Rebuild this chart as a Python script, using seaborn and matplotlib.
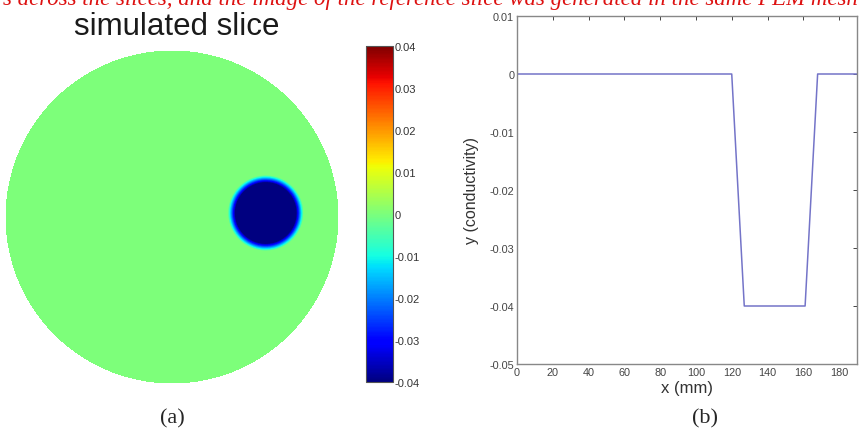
import numpy as np
import pandas as pd
import matplotlib
matplotlib.use("Agg")
import matplotlib.pyplot as plt
import seaborn as sns

# (a) simulated slice: disc with one low-conductivity inclusion
grid_n = 334
inclusion_x = 0.563      # in slice radii, right of centre
inclusion_y = 0.024      # in slice radii, above centre
inclusion_radius = 0.205
inclusion_value = -0.04
background_value = 0.0
edge_width = 0.045

cbar_ticks = [-0.04, -0.03, -0.02, -0.01, 0, 0.01, 0.02, 0.03, 0.04]
cbar_labels = ["-0.04", "-0.03", "-0.02", "-0.01", "0", "0.01", "0.02", "0.03", "0.04"]

# (b) conductivity profile through the inclusion
profile_x = [0, 120, 127, 161, 168, 190]
profile_y = [0, 0, -0.04, -0.04, 0, 0]

x_ticks = [0, 20, 40, 60, 80, 100, 120, 140, 160, 180]
y_ticks = [-0.05, -0.04, -0.03, -0.02, -0.01, 0, 0.01]
y_labels = ["-0.05", "-0.04", "-0.03", "-0.02", "-0.01", "0", "0.01"]

caption_text = ("s across the slices, and the image of the reference slice "
                "was generated in the same FEM mesh")

sns.set_style("white")
plt.rcParams["font.family"] = ["Liberation Sans", "DejaVu Sans"]

# build slice image
coords = np.linspace(-1, 1, grid_n)
X, Y = np.meshgrid(coords, -coords)
dist = np.sqrt((X - inclusion_x) ** 2 + (Y - inclusion_y) ** 2)
weight = np.clip((inclusion_radius - dist) / edge_width + 0.5, 0, 1)
values = background_value + (inclusion_value - background_value) * weight
outside = X ** 2 + Y ** 2 > 1.0
slice_df = pd.DataFrame(values)

fig = plt.figure(figsize=(8.6, 4.35), dpi=100)

ax_img = fig.add_axes([5 / 860, (435 - 385) / 435, 334 / 860, 334 / 435])
cax = fig.add_axes([366 / 860, (435 - 383) / 435, 27 / 860, 336 / 435])
sns.heatmap(slice_df, mask=outside, cmap="jet", vmin=-0.04, vmax=0.04,
            ax=ax_img, cbar_ax=cax, xticklabels=False, yticklabels=False)
ax_img.set_xlabel("")
ax_img.set_ylabel("")

cbar = ax_img.collections[0].colorbar
cbar.set_ticks(cbar_ticks)
cbar.set_ticklabels(cbar_labels)
cbar.outline.set_linewidth(0.8)
cbar.outline.set_edgecolor("#555555")
cax.tick_params(labelsize=8, labelcolor="#333333", length=2, width=0.6,
                direction="in", left=True, right=True, pad=1)

fig.text(0.206, 0.938, "simulated slice", fontsize=22.5, ha="center", va="center",
         color="#1a1a1a")

# profile
ax = fig.add_axes([517 / 860, (435 - 365) / 435, 340 / 860, 348 / 435])
sns.lineplot(x=profile_x, y=profile_y, ax=ax, color="#7474c8", linewidth=1.1)
ax.set_xlim(0, 190)
ax.set_ylim(-0.05, 0.01)
ax.set_xticks(x_ticks)
ax.set_yticks(y_ticks)
ax.set_yticklabels(y_labels)
ax.tick_params(direction="in", top=True, right=True, length=3, width=0.7,
               labelsize=7.8, labelcolor="#444444", color="#444444", pad=2)
for sp in ax.spines.values():
    sp.set_edgecolor("#888888")
    sp.set_linewidth(1.0)
ax.set_xlabel("x (mm)", fontsize=12, color="#333333", labelpad=2)
ax.set_ylabel("y (conductivity)", fontsize=11.5, color="#333333")
ax.yaxis.set_label_coords(-0.113, 0.5)

fig.text(0.2, 1 - 419 / 435, "(a)", fontsize=16, family="Liberation Serif",
         ha="center", va="center")
fig.text(0.82, 1 - 419 / 435, "(b)", fontsize=16, family="Liberation Serif",
         ha="center", va="center")

# cropped line of red text from the page above
fig.text(0.5, 1 - 5 / 435, caption_text, fontsize=16.5, family="Liberation Serif",
         style="italic", color="#dd1111", ha="center", va="baseline")

fig.savefig("out.png", dpi=100)
